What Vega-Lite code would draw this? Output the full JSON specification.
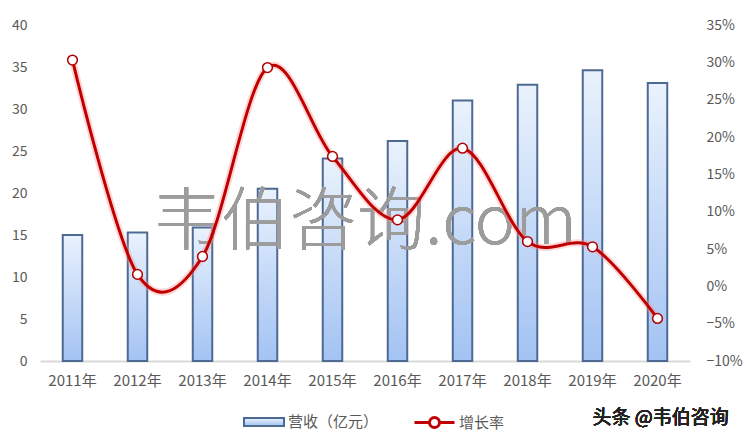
{
  "$schema": "https://vega.github.io/schema/vega-lite/v6.json",
  "autosize": {"type": "none"},
  "width": 650,
  "height": 336,
  "padding": {"left": 40, "top": 25, "right": 56, "bottom": 83},
  "background": "white",
  "data": {
    "values": [
      {"year": "2011年", "revenue": 15.0, "growth": 0.303},
      {"year": "2012年", "revenue": 15.3, "growth": 0.016},
      {"year": "2013年", "revenue": 15.9, "growth": 0.040},
      {"year": "2014年", "revenue": 20.5, "growth": 0.293},
      {"year": "2015年", "revenue": 24.1, "growth": 0.174},
      {"year": "2016年", "revenue": 26.2, "growth": 0.089},
      {"year": "2017年", "revenue": 31.0, "growth": 0.185},
      {"year": "2018年", "revenue": 32.9, "growth": 0.060},
      {"year": "2019年", "revenue": 34.6, "growth": 0.053},
      {"year": "2020年", "revenue": 33.1, "growth": -0.043}
    ]
  },
  "layer": [
    {
      "layer": [
        {
          "mark": {
            "type": "bar",
            "width": {"band": 0.3},
            "strokeWidth": 2,
            "fill": {
              "gradient": "linear", "x1": 0, "y1": 0, "x2": 0, "y2": 1,
              "stops": [
                {"offset": 0, "color": "#eaf2fd"},
                {"offset": 1, "color": "#a3c3f3"}
              ]
            }
          },
          "encoding": {
            "x": {
              "field": "year", "type": "nominal", "sort": null,
              "scale": {"paddingInner": 0, "paddingOuter": 0},
              "axis": {
                "title": null, "domain": true, "domainColor": "#d9d9d9", "domainWidth": 2,
                "ticks": false, "labelPadding": 12, "labelFontSize": 15, "labelAngle": 0
              }
            },
            "y": {
              "field": "revenue", "type": "quantitative",
              "scale": {"domain": [0, 40], "nice": false},
              "axis": {"title": null, "orient": "left", "values": [0, 5, 10, 15, 20, 25, 30, 35, 40], "labelPadding": 13, "labelOverlap": false}
            },
            "stroke": {
              "datum": "营收（亿元）",
              "scale": {"domain": ["营收（亿元）"], "range": ["#4d6a92"]},
              "legend": {
                "title": null,
                "orient": "none",
                "direction": "horizontal",
                "legendX": 203,
                "legendY": 376,
                "symbolType": "M-1,-0.2H1V0.2H-1Z",
                "symbolSize": 1600,
                "symbolStrokeWidth": 2,
                "labelFontSize": 15,
                "labelColor": "#595959",
                "labelFont": "Noto Sans CJK SC",
                "labelOffset": 3
              }
            }
          }
        },
        {
          "mark": {"type": "text", "text": "韦伯咨询.com", "font": "Noto Sans CJK SC", "fontSize": 68, "fontWeight": 200, "color": "#9c9c9c", "opacity": 0.7, "baseline": "middle", "align": "center"},
          "encoding": {
            "y": {"datum": 16.3}
          }
        },
        {
          "mark": {"type": "text", "text": "头条 @韦伯咨询", "font": "Noto Sans CJK SC", "fontSize": 19, "color": "#222222", "baseline": "middle", "align": "left"},
          "encoding": {
            "x": {"datum": "2019年"},
            "y": {"datum": -6.8}
          }
        }
      ]
    },
    {
      "encoding": {
        "x": {"field": "year", "type": "nominal", "sort": null},
        "y": {
          "field": "growth", "type": "quantitative",
          "scale": {"domain": [-0.1, 0.35], "nice": false},
          "axis": {"title": null, "orient": "right", "format": ".0%", "values": [-0.1, -0.05, 0, 0.05, 0.1, 0.15, 0.2, 0.25, 0.3, 0.35], "labelPadding": 16, "labelOverlap": false, "labelBound": false}
        }
      },
      "layer": [
        {
          "mark": {"type": "line", "interpolate": "cardinal", "strokeWidth": 7, "color": "#ff8a8a", "opacity": 0.35}
        },
        {
          "mark": {"type": "line", "interpolate": "cardinal", "strokeWidth": 3},
          "encoding": {
            "stroke": {
              "datum": "增长率",
              "scale": {"domain": ["增长率"], "range": ["#c00000"]},
              "legend": {
                "title": null,
                "orient": "none",
                "direction": "horizontal",
                "legendX": 373,
                "legendY": 376,
                "symbolType": "M-1,0H-0.25M0.25,0H1M-0.25,0A0.25,0.25 0 1,0 0.25,0A0.25,0.25 0 1,0 -0.25,0",
                "symbolSize": 1600,
                "symbolFillColor": "white",
                "symbolStrokeWidth": 3,
                "labelFontSize": 15,
                "labelColor": "#595959",
                "labelFont": "Noto Sans CJK SC",
                "labelOffset": 3
              }
            }
          }
        },
        {
          "mark": {"type": "point", "shape": "circle", "filled": true, "fill": "white", "stroke": "#b00000", "size": 95, "strokeWidth": 1.5, "opacity": 1}
        }
      ]
    }
  ],
  "resolve": {
    "scale": {"y": "independent", "stroke": "independent"},
    "legend": {"stroke": "independent"}
  },
  "config": {
    "view": {"stroke": null},
    "axis": {
      "grid": false, "ticks": false, "domain": false, "labelOverlap": false,
      "labelFont": "Noto Sans CJK SC", "labelFontSize": 14, "labelColor": "#595959"
    }
  }
}
